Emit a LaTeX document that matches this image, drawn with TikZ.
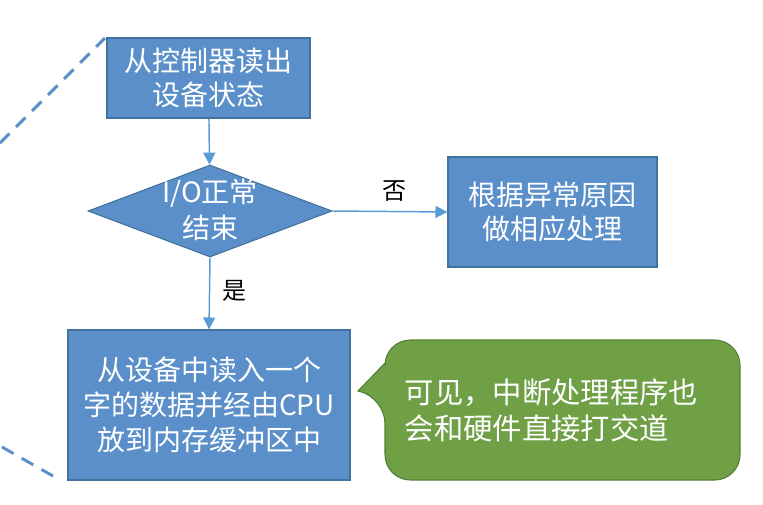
\documentclass[tikz,border=0pt]{standalone}
\usepackage{fontspec}
\setmainfont{Noto Sans CJK SC}
\usepackage{xcolor}
\usetikzlibrary{arrows.meta,positioning,shapes.geometric}

\definecolor{boxblue}{HTML}{5B8FC9}
\definecolor{boxline}{HTML}{41719C}
\definecolor{arrowblue}{HTML}{5B9BD5}
\definecolor{notegreen}{HTML}{6FA046}
\definecolor{noteline}{HTML}{557F36}

\begin{document}
\begin{tikzpicture}[
			x=0.75pt, y=-0.75pt,
			box/.style={rectangle, draw=boxline, fill=boxblue, text=white, line width=0.8pt,
				align=center, font=\fontsize{21}{25}\selectfont},
			decision/.style={diamond, draw=boxline, fill=boxblue, line width=0.8pt, inner sep=0pt,
				minimum width=183pt, minimum height=69pt},
			txt/.style={text=white, align=center, font=\fontsize{21}{27}\selectfont},
			lab/.style={text=black, font=\fontsize{18}{20}\selectfont},
			flow/.style={draw=arrowblue, line width=1.1pt, -{Triangle[length=9pt, width=9pt]}},
			guide/.style={draw=boxblue, line width=2.2pt, dash pattern=on 10pt off 7pt},
			note/.style={draw=noteline, fill=notegreen, line width=0.8pt}
			]
			\useasboundingbox (0,0) rectangle (763,504);
			
			% dashed guides on the left
			\coordinate (g1a) at (0,143);
			\coordinate (g1b) at (105,38);
			\coordinate (g2a) at (2,447);
			\coordinate (g2b) at (60,480);
			\draw[guide] (g1a) -- (g1b);
			\draw[guide] (g2a) -- (g2b);
			
			% flow chart nodes
			\node[box, minimum width=152.25pt, minimum height=60pt] (read) at (208.5,78) {从控制器读出\\设备状态};
			\node[decision] (chk) at (210,211) {};
			\node[txt] (chktxt) at (210,210) {I/O正常\\结束};
			\node[box, minimum width=156.75pt, minimum height=82.5pt] (err) at (552.5,212) {根据异常原因\\做相应处理};
			\node[box, minimum width=211.5pt, minimum height=112.5pt, font=\fontsize{21}{26.5}\selectfont] (load) at (209,405) {从设备中读入一个\\字的数据并经由CPU\\放到内存缓冲区中};
			
			% arrows
			\draw[flow] (read) -- (chk);
			\draw[flow] (chk.east) -- (err.west) node[lab, midway, above=4pt, xshift=3pt] (no) {否};
			\draw[flow] (chk.south) -- (load.north) node[lab, midway, right=6pt, yshift=2pt] (yes) {是};
			
			% callout
			\draw[note] (385,398) -- (358,391) -- (385,363) [rounded corners=19pt] -- (385,340) -- (740,340) -- (740,480) -- (385,480) -- cycle;
			\node[txt, align=left, anchor=west, font=\fontsize{22}{27}\selectfont] (remark) at (400,410) {可见，中断处理程序也\\会和硬件直接打交道};
			
		\end{tikzpicture}
\end{document}
